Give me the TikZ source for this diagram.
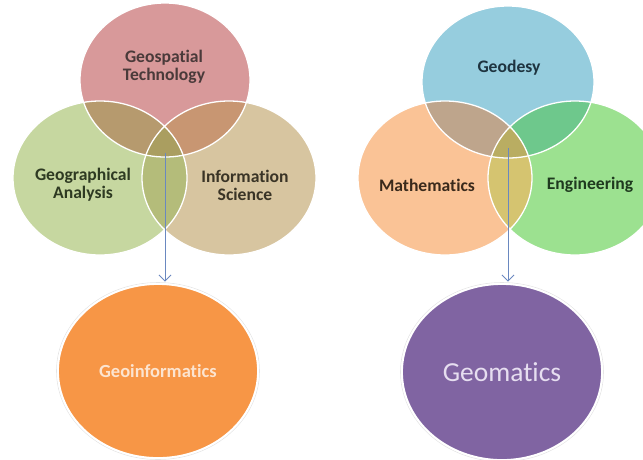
\documentclass[tikz,border=0pt]{standalone}
\usepackage{fontspec}
\setmainfont{Carlito}[Ligatures=NoCommon]
\usetikzlibrary{shapes.geometric,arrows.meta}

% base colours of the two Venn diagrams
\definecolor{cGT}{HTML}{D8999A}   % Geospatial Technology
\definecolor{cGA}{HTML}{C6D7A0}   % Geographical Analysis
\definecolor{cIS}{HTML}{D7C5A0}   % Information Science
\definecolor{cGTGA}{HTML}{B69A6E}
\definecolor{cGTIS}{HTML}{C89672}
\definecolor{cGAIS}{HTML}{B4BC7A}
\definecolor{cLall}{HTML}{AA9E60}
\definecolor{cGD}{HTML}{96CDDE}   % Geodesy
\definecolor{cMA}{HTML}{FAC396}   % Mathematics
\definecolor{cEN}{HTML}{9CE190}   % Engineering
\definecolor{cGDMA}{HTML}{BEA58C}
\definecolor{cGDEN}{HTML}{6EC88C}
\definecolor{cMAEN}{HTML}{D5C470}
\definecolor{cRall}{HTML}{B9AD62}
% result discs and text
\definecolor{orangeDisc}{HTML}{F79646}
\definecolor{purpleDisc}{HTML}{8064A2}
\definecolor{orangeText}{HTML}{FCE4D0}
\definecolor{purpleText}{HTML}{E6DEF0}
\definecolor{arrowBlue}{HTML}{6A88C0}
\definecolor{tGT}{HTML}{4A3A3A}
\definecolor{tGA}{HTML}{2E3A22}
\definecolor{tIS}{HTML}{3A3426}
\definecolor{tGD}{HTML}{1E3440}
\definecolor{tMA}{HTML}{3A2A1C}
\definecolor{tEN}{HTML}{1F3A1F}

\tikzset{
  % circle outlines used for fills, clips and rims
  ellGT/.style={insert path={(165,80) ellipse [x radius=85pt, y radius=77pt]}},
  ellGA/.style={insert path={(100,178) ellipse [x radius=87pt, y radius=77pt]}},
  ellIS/.style={insert path={(229,178) ellipse [x radius=87pt, y radius=77pt]}},
  ellGD/.style={insert path={(508,82) ellipse [x radius=86pt, y radius=76pt]}},
  ellMA/.style={insert path={(445,178) ellipse [x radius=87pt, y radius=77pt]}},
  ellEN/.style={insert path={(575,178) ellipse [x radius=87pt, y radius=77pt]}},
  rim/.style={draw=white, line width=1.3pt},
  vennlabel/.style={font=\fontsize{17.6}{18}\selectfont\bfseries, align=center, inner sep=0pt},
  bigdisc/.style={ellipse, inner sep=0pt, minimum width=200pt, minimum height=174pt,
                  draw=white, line width=1.8pt},
  halo/.style={draw=black!10, line width=0.6pt},
  link/.style={draw=arrowBlue, line width=0.9pt, -{Straight Barb[length=6pt,width=12pt]}}
}

\begin{document}
\begin{tikzpicture}[x=1pt,y=-1pt]
\useasboundingbox (0,0) rectangle (643,459);
\clip (0,0) rectangle (643,459);

% ---------- left Venn diagram ----------
\fill[cGT, ellGT];
\fill[cGA, ellGA];
\fill[cIS, ellIS];
\begin{scope}\clip[ellGT]; \fill[cGTGA, ellGA]; \end{scope}
\begin{scope}\clip[ellGT]; \fill[cGTIS, ellIS]; \end{scope}
\begin{scope}\clip[ellGA]; \fill[cGAIS, ellIS]; \end{scope}
\begin{scope}\clip[ellGT]; \clip[ellGA]; \fill[cLall, ellIS]; \end{scope}
\draw[rim, ellGT];
\draw[rim, ellGA];
\draw[rim, ellIS];

\node[vennlabel, text=tGT] (gt) at (164,67) {Geospatial\\Technology};
\node[vennlabel, text=tGA] (ga) at (83,185) {Geographical\\Analysis};
\node[vennlabel, text=tIS] (is) at (245,185) {Information\\Science};

% ---------- right Venn diagram ----------
\fill[cGD, ellGD];
\fill[cMA, ellMA];
\fill[cEN, ellEN];
\begin{scope}\clip[ellGD]; \fill[cGDMA, ellMA]; \end{scope}
\begin{scope}\clip[ellGD]; \fill[cGDEN, ellEN]; \end{scope}
\begin{scope}\clip[ellMA]; \fill[cMAEN, ellEN]; \end{scope}
\begin{scope}\clip[ellGD]; \clip[ellMA]; \fill[cRall, ellEN]; \end{scope}
\draw[rim, ellGD];
\draw[rim, ellMA];
\draw[rim, ellEN];

\node[vennlabel, text=tGD] (gd) at (509,68) {Geodesy};
\node[vennlabel, text=tMA] (ma) at (427,185) {Mathematics};
\node[vennlabel, text=tEN] (en) at (590,185) {Engineering};

% ---------- result discs ----------
\draw[halo] (158,371) ellipse [x radius=101.5pt, y radius=88.5pt];
\node[bigdisc, fill=orangeDisc, text=orangeText,
      font=\fontsize{18.5}{20}\selectfont\bfseries] (geoinf) at (158,371) {Geoinformatics};
\draw[halo] (502,372) ellipse [x radius=101.5pt, y radius=89.5pt];
\node[bigdisc, fill=purpleDisc, text=purpleText, minimum height=176pt,
      font=\fontsize{27.5}{30}\selectfont] (geomat) at (502,372) {Geomatics};

% ---------- arrows from the centre of each Venn diagram ----------
\coordinate (srcL) at (165,153);
\coordinate (srcR) at (508,148);
\draw[link, shorten >=1.5pt] (srcL) -- (srcL |- geoinf.north);
\draw[link, shorten >=1.5pt] (srcR) -- (srcR |- geomat.north);
\end{tikzpicture}
\end{document}
